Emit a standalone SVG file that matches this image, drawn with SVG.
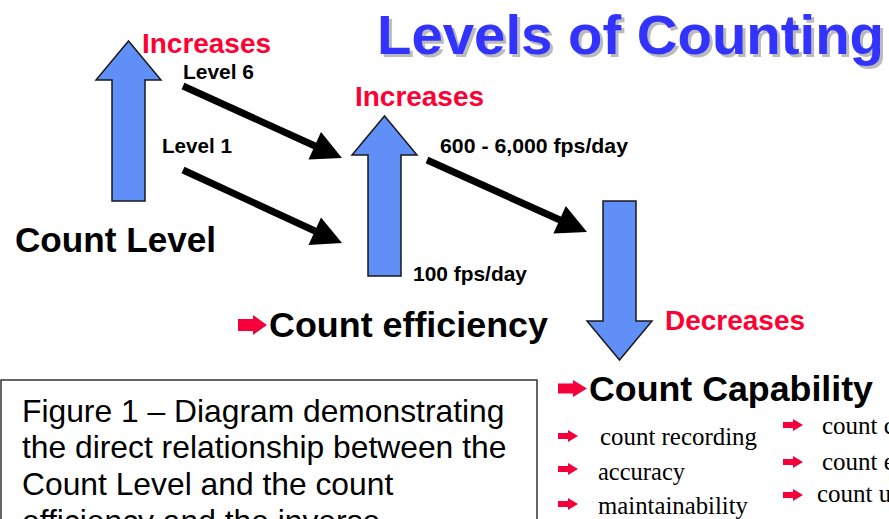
<svg xmlns="http://www.w3.org/2000/svg" xmlns:xlink="http://www.w3.org/1999/xlink" width="889" height="519" viewBox="0 0 889 519">
<defs>
<style>
.bold{font-family:"Liberation Sans",Arial,sans-serif;font-weight:bold;}
.red{fill:#FF0033;font-size:27px;}
.lbl{fill:#000;font-size:21px;}
.big{fill:#000;font-size:35px;}
.cap{font-family:"Liberation Sans",Arial,sans-serif;font-size:31.8px;fill:#000;}
.ser{font-family:"Liberation Serif","Times New Roman",serif;font-size:25px;fill:#000;}
.blk{fill:#5F8FF7;stroke:#1a1a1a;stroke-width:1.5;stroke-linejoin:miter;}
.conn{stroke:#000;stroke-width:7;fill:none;}
.head{fill:#000;}
.ricon{fill:#F5003A;}
</style>
<path id="bigArrow" d="M0,4 H15 V0 L29,10 L15,20 V16 H0 Z"/>
<path id="bullet" d="M0,3 H10 V0 L20,6 L10,12 V9 H0 Z"/>
</defs>
<rect width="889" height="519" fill="#fff"/>

<g id="title">
<text x="380" y="57" class="bold" font-size="56" fill="#BBBBBB" textLength="507" lengthAdjust="spacingAndGlyphs">Levels of Counting</text>
<text x="377" y="54" class="bold" font-size="56" fill="#3333FF" textLength="507" lengthAdjust="spacingAndGlyphs">Levels of Counting</text>
</g>

<g id="countLevel">
<path class="blk" d="M112,201 V80 H96 L128.5,41 L161,80 H145 V201 Z"/>
<text x="142" y="53" class="bold red" textLength="129" lengthAdjust="spacingAndGlyphs">Increases</text>
<text x="15" y="252" class="bold big" textLength="201" lengthAdjust="spacingAndGlyphs">Count Level</text>
</g>

<g id="level6">
<text x="183" y="79" class="bold lbl" textLength="71" lengthAdjust="spacingAndGlyphs">Level 6</text>
</g>
<g id="level1">
<text x="162" y="153" class="bold lbl" textLength="70" lengthAdjust="spacingAndGlyphs">Level 1</text>
</g>

<g id="countEfficiency">
<path class="blk" d="M368,276 V155 H352 L384.5,116 L417,155 H401 V276 Z"/>
<text x="355" y="106" class="bold red" textLength="129" lengthAdjust="spacingAndGlyphs">Increases</text>
<text x="440" y="153" class="bold lbl" textLength="188" lengthAdjust="spacingAndGlyphs">600 - 6,000 fps/day</text>
<text x="413" y="281" class="bold lbl" textLength="114" lengthAdjust="spacingAndGlyphs">100 fps/day</text>
<use xlink:href="#bigArrow" href="#bigArrow" class="ricon" transform="translate(238,315)"/>
<text x="269" y="337" class="bold big" textLength="279" lengthAdjust="spacingAndGlyphs">Count efficiency</text>
</g>

<g id="countCapability">
<path class="blk" d="M603,201 V321 H587 L619.5,360 L652,321 H636 V201 Z"/>
<text x="665" y="330" class="bold red" textLength="140" lengthAdjust="spacingAndGlyphs">Decreases</text>
<use xlink:href="#bigArrow" href="#bigArrow" class="ricon" transform="translate(558,380) scale(1,0.85)"/>
<text x="589" y="401" class="bold big" textLength="284" lengthAdjust="spacingAndGlyphs">Count Capability</text>
<use xlink:href="#bullet" href="#bullet" class="ricon" transform="translate(558,430)"/>
<text x="600" y="445" class="ser" textLength="157" lengthAdjust="spacingAndGlyphs">count recording</text>
<use xlink:href="#bullet" href="#bullet" class="ricon" transform="translate(558,463)"/>
<text x="598" y="480" class="ser" textLength="87" lengthAdjust="spacingAndGlyphs">accuracy</text>
<use xlink:href="#bullet" href="#bullet" class="ricon" transform="translate(558,498)"/>
<text x="598" y="514" class="ser" textLength="150" lengthAdjust="spacingAndGlyphs">maintainability</text>
<use xlink:href="#bullet" href="#bullet" class="ricon" transform="translate(783,419)"/>
<text x="822" y="434" class="ser">count c</text>
<use xlink:href="#bullet" href="#bullet" class="ricon" transform="translate(783,456)"/>
<text x="822" y="470" class="ser">count e</text>
<use xlink:href="#bullet" href="#bullet" class="ricon" transform="translate(783,489)"/>
<text x="817" y="502" class="ser">count u</text>
</g>

<g id="connectors">
<line class="conn" x1="183" y1="86" x2="315" y2="146"/>
<polygon class="head" points="342,158 308.5,159.5 321,132"/>
<line class="conn" x1="183" y1="170" x2="315" y2="231"/>
<polygon class="head" points="342,243 308.5,245 321,217.5"/>
<line class="conn" x1="427" y1="160" x2="560" y2="220"/>
<polygon class="head" points="587,232 553.4,233.4 565.8,206"/>
</g>

<g id="caption">
<rect x="1" y="380" width="536" height="160" fill="none" stroke="#333" stroke-width="1.5"/>
<text x="22" y="422" class="cap">Figure 1 – Diagram demonstrating</text>
<text x="22" y="458" class="cap">the direct relationship between the</text>
<text x="22" y="495" class="cap">Count Level and the count</text>
<text x="22" y="532" class="cap">efficiency and the inverse</text>
</g>
</svg>
